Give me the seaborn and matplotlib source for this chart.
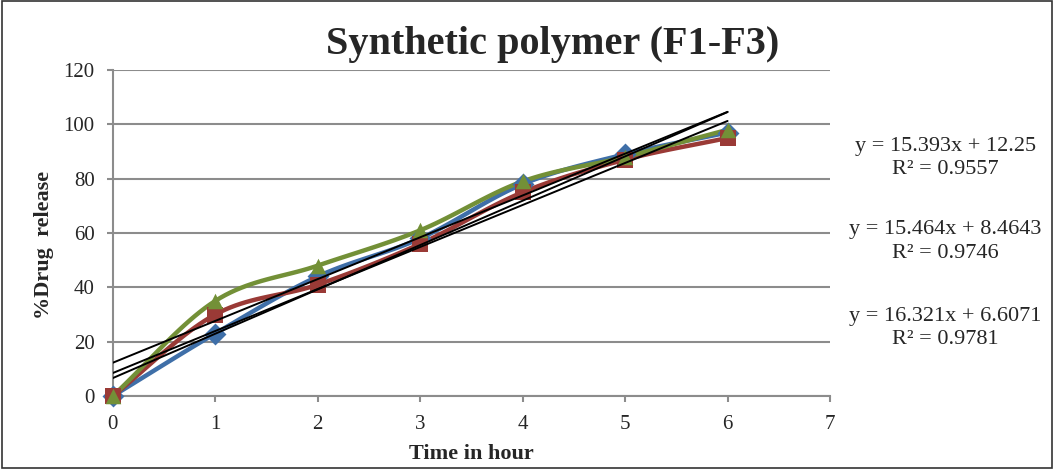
import numpy as np
import pandas as pd
import matplotlib
matplotlib.use("Agg")
import matplotlib.pyplot as plt
import seaborn as sns

time_h = [0, 1, 2, 3, 4, 5, 6]
f1 = [0, 23, 44, 58, 78, 89, 97]
f2 = [0, 30, 41, 56, 75, 87, 95]
f3 = [0, 35, 48, 61, 79, 88, 98]
series_names = ["F1", "F2", "F3"]
colors = ["#3F6FA8", "#9A3A36", "#739037"]
markers = ["D", "s", "^"]
equations = ["y = 16.321x + 6.6071\nR² = 0.9781",
             "y = 15.464x + 8.4643\nR² = 0.9746",
             "y = 15.393x + 12.25\nR² = 0.9557"]

sns.set_style("white")
plt.rcParams['font.family'] = ['Liberation Serif', 'DejaVu Serif']

fig = plt.figure(figsize=(10.54, 4.70), dpi=100)
ax = fig.add_axes([0.107, 0.1574, 0.6805, 0.6936])


def catmull(x, y, n=20):
    x = np.asarray(x, float); y = np.asarray(y, float)
    px = np.concatenate([[2 * x[0] - x[1]], x, [2 * x[-1] - x[-2]]])
    py = np.concatenate([[2 * y[0] - y[1]], y, [2 * y[-1] - y[-2]]])
    xs, ys = [], []
    t = np.linspace(0, 1, n, endpoint=False)
    for i in range(1, len(px) - 2):
        for P, out in ((px, xs), (py, ys)):
            p0, p1, p2, p3 = P[i - 1], P[i], P[i + 1], P[i + 2]
            out.extend(0.5 * (2 * p1 + (-p0 + p2) * t + (2 * p0 - 5 * p1 + 4 * p2 - p3) * t ** 2
                              + (-p0 + 3 * p1 - 3 * p2 + p3) * t ** 3))
    xs.append(x[-1]); ys.append(y[-1])
    return np.array(xs), np.array(ys)


for yv, c, m, nm in zip([f1, f2, f3], colors, markers, series_names):
    sx, sy = catmull(time_h, yv)
    ax.plot(sx, sy, color=c, lw=3.2, zorder=3, solid_capstyle='round')
    df = pd.DataFrame({"t": time_h, "v": yv})
    sns.scatterplot(data=df, x="t", y="v", ax=ax, marker=m, color=c, s=125,
                    edgecolor=c, linewidth=0, zorder=4, legend=False, clip_on=False)

for yv in [f1, f2, f3]:
    p = np.polyfit(time_h, yv, 1)
    xx = np.array([time_h[0], time_h[-1]])
    ax.plot(xx, np.polyval(p, xx), color="black", lw=1.4, zorder=5)

ax.set_xlim(0, 7)
ax.set_ylim(0, 120)
ax.set_xticks(range(0, 8))
ax.set_yticks(range(0, 121, 20))
ax.yaxis.grid(True, color="#8c8c8c", lw=1.5)
ax.set_axisbelow(True)
for s in ["top", "right"]:
    ax.spines[s].set_visible(False)
for s in ["left", "bottom"]:
    ax.spines[s].set_color("#8c8c8c")
    ax.spines[s].set_linewidth(1.5)
ax.tick_params(axis="both", direction="out", length=4, width=1.5, color="#8c8c8c",
               labelsize=15, bottom=True, left=True)
ax.tick_params(axis="x", pad=10)
ax.tick_params(axis="y", pad=9)
ax.set_xlabel("Time in hour", fontsize=16, fontweight="bold", labelpad=7)
ax.set_ylabel("%Drug  release", fontsize=16, fontweight="bold", labelpad=3)
ax.yaxis.set_label_coords(-0.082, 0.463)

fig.text(0.524, 0.905, "Synthetic polymer (F1-F3)", ha="center", va="center",
         fontsize=29, fontweight="bold")

for eq, yy in zip(equations, [0.302, 0.486, 0.664]):
    fig.text(0.897, yy, eq, ha="center", va="center", fontsize=16, linespacing=1.3)

fig.add_artist(plt.Rectangle((0.002, 0.004), 0.996, 0.993, transform=fig.transFigure,
                             fill=False, edgecolor="#333333", lw=1.2))

fig.savefig("out.png", dpi=100)
